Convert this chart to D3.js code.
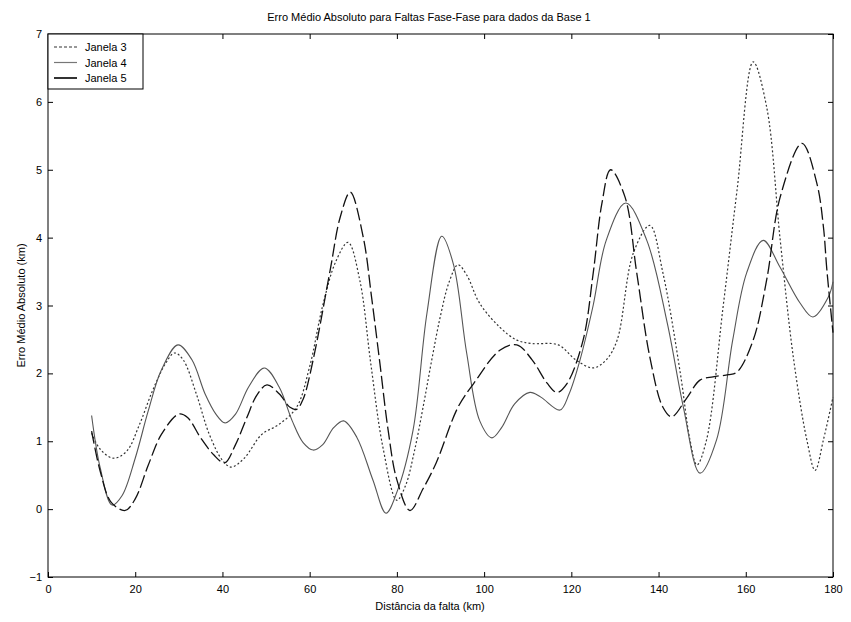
<!DOCTYPE html>
<html>
<head>
<meta charset="utf-8">
<script src="https://cdn.jsdelivr.net/npm/d3@7"></script>
<style>
  html, body { margin: 0; padding: 0; background: #fff; }
  svg { display: block; font-family: "Liberation Sans", Arial, sans-serif; }
  .tick text { font-size: 11px; fill: #000; }
</style>
</head>
<body>
<svg id="chart" width="851" height="622"></svg>
<script>
// Distance of the fault (km) and mean absolute error (km) for each window size
const janela3Km  = [10, 12, 15, 18, 21, 24, 27, 29, 31, 34, 37, 40, 42, 45, 49, 53, 57, 60, 63, 66, 68.8, 71.5, 74, 76.8, 80, 82, 84, 86, 88, 90, 92, 94, 96, 99, 103.6, 107.5, 111, 117, 121, 125, 128, 130.5, 134.2, 138, 141, 145, 147.2, 148.8, 151, 154.8, 158, 161.7, 164.8, 167.9, 170.9, 174, 175.9, 177.8, 180];
const janela3Val = [1.12, 0.88, 0.75, 0.85, 1.25, 1.75, 2.15, 2.3, 2.2, 1.7, 1.1, 0.72, 0.62, 0.75, 1.1, 1.25, 1.5, 2.1, 3.0, 3.65, 3.93, 3.37, 2.15, 0.91, 0.13, 0.35, 0.85, 1.5, 2.2, 2.85, 3.35, 3.6, 3.45, 3.03, 2.68, 2.49, 2.44, 2.42, 2.2, 2.08, 2.2, 2.49, 3.77, 4.18, 3.48, 2.0, 1.02, 0.65, 1.02, 2.98, 4.7, 6.59, 5.92, 3.96, 2.24, 1.02, 0.57, 1.02, 1.65];

const janela4Km  = [10, 12, 14.7, 17, 20, 23, 26, 29.8, 33, 36, 38.5, 40.6, 43, 46, 49.6, 53, 56, 58.5, 60.8, 63, 65.5, 67.8, 70.8, 74.5, 77.5, 80, 83.7, 86.9, 90.3, 93, 96, 99, 101.8, 104, 107, 110.5, 113, 117.4, 119.5, 122, 125, 128, 132.5, 137.3, 142, 145.7, 149.5, 153.3, 157, 160.2, 164, 167.8, 172.4, 175.4, 178.9, 180];
const janela4Val = [1.38, 0.6, 0.06, 0.2, 0.75, 1.45, 2.05, 2.42, 2.2, 1.7, 1.4, 1.27, 1.4, 1.8, 2.08, 1.8, 1.3, 0.98, 0.87, 0.95, 1.2, 1.3, 1.06, 0.43, -0.06, 0.25, 1.16, 2.89, 4.02, 3.6, 2.3, 1.3, 1.05, 1.2, 1.55, 1.72, 1.65, 1.46, 1.7, 2.2, 3.0, 3.96, 4.51, 3.96, 2.74, 1.5, 0.53, 1.02, 2.49, 3.48, 3.96, 3.57, 3.04, 2.83, 3.12, 3.35];

const janela5Km  = [10, 12, 14.5, 17.7, 20, 23, 26, 30, 32, 35, 38, 40.5, 43, 45.6, 47.9, 50.2, 53, 55.5, 57, 58.5, 60.8, 64.7, 67, 69.3, 72.3, 74.2, 76.1, 78, 80, 83, 86, 89, 94, 97.6, 103.6, 107.5, 111, 114.4, 116.7, 119, 122.7, 125, 127, 129, 132.3, 135, 138, 141, 143, 146.5, 149.5, 152.5, 156, 158, 161.7, 164.8, 167.9, 172.9, 176.3, 177.8, 178.6, 180];
const janela5Val = [1.15, 0.55, 0.1, -0.02, 0.15, 0.65, 1.1, 1.4, 1.35, 1.05, 0.8, 0.68, 0.95, 1.35, 1.68, 1.83, 1.7, 1.5, 1.47, 1.62, 2.2, 3.52, 4.3, 4.67, 4.0, 3.12, 2.15, 1.16, 0.43, -0.02, 0.3, 0.68, 1.5, 1.85, 2.34, 2.42, 2.2, 1.86, 1.72, 1.85, 2.49, 3.47, 4.5, 5.0, 4.6, 3.48, 2.24, 1.5, 1.36, 1.64, 1.9, 1.95, 1.98, 2.02, 2.49, 3.38, 4.6, 5.39, 4.8, 4.16, 3.52, 2.6];

const seriesNames = ["Janela 3", "Janela 4", "Janela 5"];
const xTicks = [0, 20, 40, 60, 80, 100, 120, 140, 160, 180];
const yTicks = [-1, 0, 1, 2, 3, 4, 5, 6, 7];

const chartTitle = "Erro Médio Absoluto para Faltas Fase-Fase para dados da Base 1";
const xTitle = "Distância da falta (km)";
const yTitle = "Erro Médio Absoluto (km)";

// Plot box
const boxLeft = 48, boxRight = 833, boxTop = 34, boxBottom = 577;

const svg = d3.select("#chart");
const x = d3.scaleLinear().domain([0, 180]).range([boxLeft, boxRight]);
const y = d3.scaleLinear().domain([-1, 7]).range([boxBottom, boxTop]);

const styles = [
  { color: "#333", width: 1.2, dash: "2,2.2" },
  { color: "#555", width: 1.1, dash: null },
  { color: "#111", width: 1.3, dash: "13,4" }
];

const series = [
  janela3Km.map((k, i) => [k, janela3Val[i]]),
  janela4Km.map((k, i) => [k, janela4Val[i]]),
  janela5Km.map((k, i) => [k, janela5Val[i]])
];

// Axes with inward ticks on all four sides
const tickLen = 5;
svg.append("g")
  .attr("transform", `translate(0,${boxBottom})`)
  .call(d3.axisBottom(x).tickValues(xTicks).tickFormat(d3.format("d"))
    .tickSizeInner(-tickLen).tickSizeOuter(0).tickPadding(8));
svg.append("g")
  .attr("transform", `translate(0,${boxTop})`)
  .call(d3.axisTop(x).tickValues(xTicks).tickFormat("")
    .tickSizeInner(-tickLen).tickSizeOuter(0));
svg.append("g")
  .attr("transform", `translate(${boxLeft},0)`)
  .call(d3.axisLeft(y).tickValues(yTicks).tickFormat(d3.format("d"))
    .tickSizeInner(-tickLen).tickSizeOuter(0).tickPadding(6));
svg.append("g")
  .attr("transform", `translate(${boxRight},0)`)
  .call(d3.axisRight(y).tickValues(yTicks).tickFormat("")
    .tickSizeInner(-tickLen).tickSizeOuter(0));
svg.selectAll(".domain").remove();
svg.selectAll(".tick line").attr("stroke", "#000");

// Frame
svg.append("rect")
  .attr("x", boxLeft).attr("y", boxTop)
  .attr("width", boxRight - boxLeft).attr("height", boxBottom - boxTop)
  .attr("fill", "none").attr("stroke", "#000").attr("stroke-width", 1);

// Curves
const line = d3.line()
  .x(d => x(d[0]))
  .y(d => y(d[1]))
  .curve(d3.curveCatmullRom.alpha(0.5));

const plot = svg.append("g");
series.forEach((pts, i) => {
  plot.append("path")
    .datum(pts)
    .attr("d", line)
    .attr("fill", "none")
    .attr("stroke", styles[i].color)
    .attr("stroke-width", styles[i].width)
    .attr("stroke-dasharray", styles[i].dash);
});

// Legend
const lg = svg.append("g");
lg.append("rect")
  .attr("x", boxLeft).attr("y", boxTop)
  .attr("width", 95).attr("height", 55)
  .attr("fill", "#fff").attr("stroke", "#000").attr("stroke-width", 1);
const legendDash = ["3,2", null, null];
const legendColor = ["#333", "#777", "#000"];
const legendWidth = [1.1, 1.2, 1.6];
seriesNames.forEach((name, i) => {
  const ly = boxTop + 13 + i * 15.5;
  lg.append("line")
    .attr("x1", boxLeft + 6).attr("x2", boxLeft + 29)
    .attr("y1", ly).attr("y2", ly)
    .attr("stroke", legendColor[i])
    .attr("stroke-width", legendWidth[i])
    .attr("stroke-dasharray", legendDash[i]);
  lg.append("text")
    .attr("x", boxLeft + 37).attr("y", ly + 4)
    .attr("font-size", 11)
    .text(name);
});

// Titles
svg.append("text")
  .attr("x", 429).attr("y", 21)
  .attr("text-anchor", "middle")
  .attr("font-size", 11)
  .text(chartTitle);
svg.append("text")
  .attr("x", 430).attr("y", 610)
  .attr("text-anchor", "middle")
  .attr("font-size", 11)
  .text(xTitle);
svg.append("text")
  .attr("transform", `translate(25,${(boxTop + boxBottom) / 2}) rotate(-90)`)
  .attr("text-anchor", "middle")
  .attr("font-size", 11)
  .text(yTitle);
</script>
</body>
</html>
